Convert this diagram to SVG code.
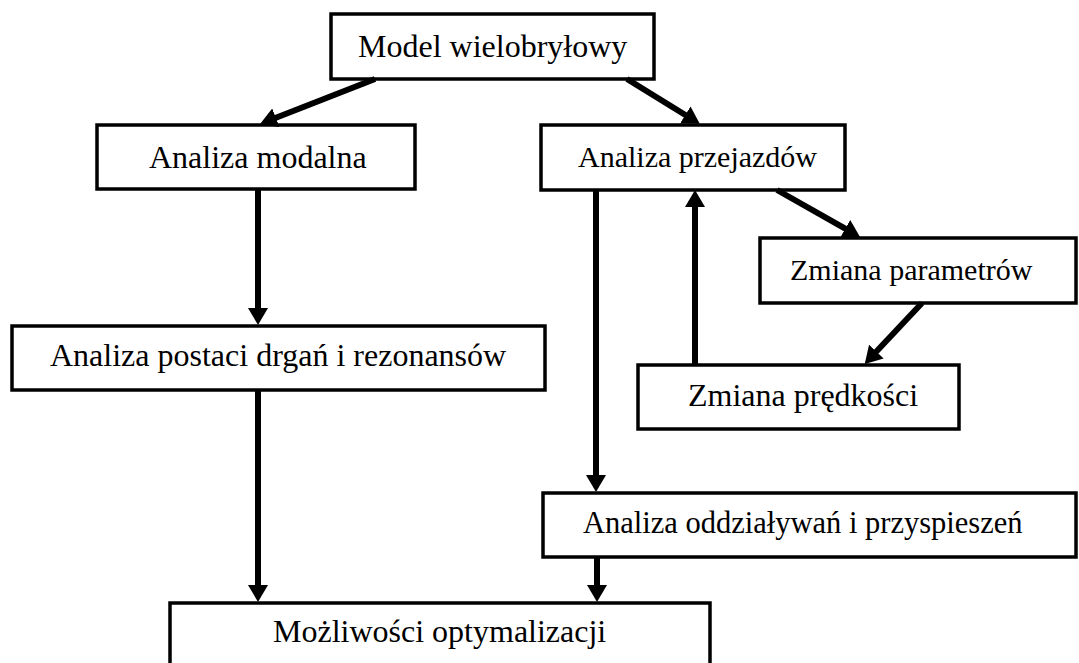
<svg xmlns="http://www.w3.org/2000/svg" width="1079" height="663" viewBox="0 0 1079 663">
<style>
.box{fill:#fff;stroke:#000;stroke-width:3.5}
.lbl{font-family:"Liberation Serif","Times New Roman",serif;font-size:32px;fill:#000}
.sm{font-size:30px}
.conn{stroke:#000;stroke-width:6;fill:none;marker-end:url(#ah)}
</style>
<defs>
<marker id="ah" markerUnits="userSpaceOnUse" markerWidth="20" markerHeight="20" viewBox="0 0 20 20" refX="2" refY="10" orient="auto">
<path d="M0,0 L17,10 L0,20 z" fill="#000"/>
</marker>
</defs>
<rect width="1079" height="663" fill="#fff"/>
<g id="n-model"><rect class="box" x="331" y="14" width="323" height="65"/><text class="lbl" x="358" y="57">Model wielobryłowy</text></g>
<g id="n-modalna"><rect class="box" x="97" y="125" width="318" height="64"/><text class="lbl" x="149" y="168">Analiza modalna</text></g>
<g id="n-przejazdow"><rect class="box" x="541" y="125" width="304" height="65"/><text class="lbl sm" x="578" y="167">Analiza przejazdów</text></g>
<g id="n-parametrow"><rect class="box" x="760" y="238" width="316" height="65"/><text class="lbl sm" x="790" y="280">Zmiana parametrów</text></g>
<g id="n-predkosci"><rect class="box" x="638" y="365" width="321" height="64"/><text class="lbl" x="688" y="406">Zmiana prędkości</text></g>
<g id="n-postaci"><rect class="box" x="12" y="326" width="533" height="64"/><text class="lbl" x="50" y="366">Analiza postaci drgań i rezonansów</text></g>
<g id="n-oddzialywan"><rect class="box" x="543" y="493" width="533" height="64"/><text class="lbl" x="583" y="533" style="font-size:30.5px">Analiza oddziaływań i przyspieszeń</text></g>
<g id="n-mozliwosci"><rect class="box" x="170" y="603" width="540" height="90"/><text class="lbl" x="273" y="642">Możliwości optymalizacji</text></g>
<g id="connectors">
<line class="conn" x1="375" y1="79" x2="274" y2="118.5"/>
<line class="conn" x1="627" y1="79" x2="687" y2="116"/>
<line class="conn" x1="777" y1="190" x2="847" y2="229.6"/>
<line class="conn" x1="922" y1="303" x2="875" y2="353"/>
<line class="conn" x1="695" y1="365" x2="695" y2="205"/>
<line class="conn" x1="596" y1="190" x2="596" y2="477"/>
<line class="conn" x1="258" y1="190" x2="258" y2="310"/>
<line class="conn" x1="258" y1="390" x2="258" y2="587"/>
<line class="conn" x1="597" y1="558" x2="597" y2="587"/>
</g>
</svg>
